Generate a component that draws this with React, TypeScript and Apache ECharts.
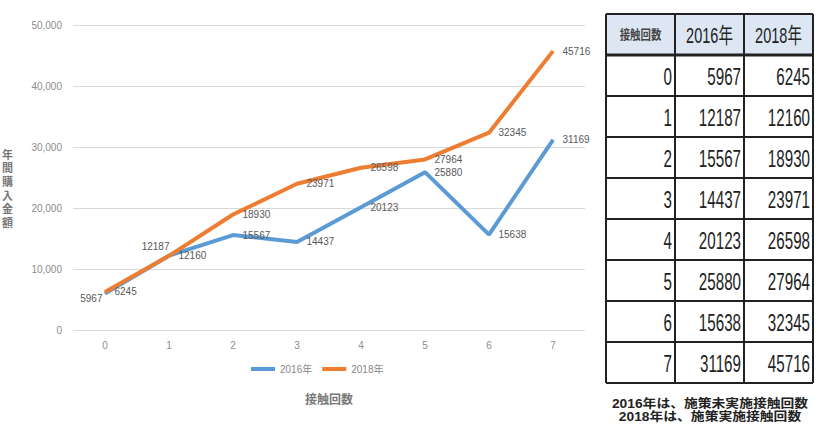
import React, { useEffect, useRef } from "react";
import * as echarts from "echarts";

const categories = ["0", "1", "2", "3", "4", "5", "6", "7"];
const seriesNames = ["2016年", "2018年"];
const values2016 = [5967, 12187, 15567, 14437, 20123, 25880, 15638, 31169];
const values2018 = [6245, 12160, 18930, 23971, 26598, 27964, 32345, 45716];
const yAxisName = ["年", "間", "購", "入", "金", "額"];
const xAxisName = "接触回数";
const tableHeader = ["接触回数", "2016年", "2018年"];
const notes = ["2016年は、施策未実施接触回数", "2018年は、施策実施接触回数"];

const FONT = "'Liberation Sans', 'Noto Sans CJK JP', sans-serif";

function buildTable(): any[] {
  const left = 606;
  const top = 14;
  const colW = 69;
  const rowH = 41;
  const nRows = categories.length + 1;
  const width = colW * 3;
  const height = rowH * nRows;
  const els: any[] = [];
  els.push({ type: "rect", shape: { x: left, y: top + rowH, width, height: height - rowH }, style: { fill: "#ffffff" } });
  els.push({ type: "rect", shape: { x: left, y: top, width, height: rowH }, style: { fill: "#dde7f3" } });
  els.push({
    type: "text", x: left + colW / 2, y: top + rowH / 2, scaleX: 0.8,
    style: { text: tableHeader[0], font: `bold 13px ${FONT}`, fill: "#444", align: "center", verticalAlign: "middle" },
  });
  for (let c = 1; c < 3; c++) {
    els.push({
      type: "text", x: left + colW * c + colW / 2, y: top + rowH / 2 + 1, scaleX: 0.66,
      style: { text: tableHeader[c], font: `22px ${FONT}`, fill: "#222", align: "center", verticalAlign: "middle" },
    });
  }
  categories.forEach((cat, i) => {
    const cy = top + rowH * (i + 1) + rowH / 2;
    const vals = [cat, String(values2016[i]), String(values2018[i])];
    vals.forEach((t, c) => {
      els.push({
        type: "text", x: left + colW * (c + 1) - 3, y: cy + 1, scaleX: 0.66,
        style: { text: t, font: `23px ${FONT}`, fill: "#222", align: "right", verticalAlign: "middle" },
      });
    });
  });
  for (let r = 0; r <= nRows; r++) {
    const y = top + rowH * r;
    els.push({
      type: "line", shape: { x1: left, y1: y, x2: left + width, y2: y },
      style: { stroke: "#222", lineWidth: r === 1 ? 3 : 2 },
    });
  }
  for (let c = 0; c <= 3; c++) {
    const x = left + colW * c;
    els.push({
      type: "line", shape: { x1: x, y1: top, x2: x, y2: top + height },
      style: { stroke: "#222", lineWidth: 2 },
    });
  }
  notes.forEach((n, i) => {
    els.push({
      type: "text", x: 710, y: 404 + i * 13, scaleX: 1.15,
      style: { text: n, font: `bold 12px ${FONT}`, fill: "#222", align: "center", verticalAlign: "middle" },
    });
  });
  return els;
}

export default function App() {
  const ref = useRef<HTMLDivElement>(null);
  useEffect(() => {
    document.body.style.margin = "0";
    const chart = echarts.init(ref.current!, null, { renderer: "svg" });
    const labelBase = { show: true, position: "right", distance: 9, fontSize: 10, color: "#595959", fontFamily: FONT };
    const data2016 = values2016.map((v, i) => {
      if (i === 0) return { value: v, label: { position: "left", distance: 2, offset: [0, 5] } };
      if (i === 1) return { value: v, label: { position: "left", distance: 0, offset: [1, -9] } };
      return v;
    });
    const common = { type: "line", symbol: "circle", symbolSize: 1, showSymbol: true, showAllSymbol: true };
    chart.setOption({
      animation: false,
      textStyle: { fontFamily: FONT },
      grid: { left: 73, right: 233, top: 25, bottom: 118 },
      legend: {
        left: 246, top: 359, itemWidth: 24, itemHeight: 4, itemGap: 10, icon: "rect",
        textStyle: { fontSize: 10, color: "#888" },
        data: seriesNames,
      },
      xAxis: {
        type: "category", data: categories, boundaryGap: true,
        axisLine: { show: false }, axisTick: { show: false },
        axisLabel: { color: "#8c8c8c", fontSize: 10, margin: 10 },
        name: xAxisName, nameLocation: "middle", nameGap: 64,
        nameTextStyle: { fontSize: 12, color: "#777", fontWeight: "bold" },
      },
      yAxis: {
        type: "value", min: 0, max: 50000, interval: 10000,
        axisLine: { show: false }, axisTick: { show: false },
        axisLabel: { color: "#8c8c8c", fontSize: 10, margin: 11, formatter: (v: number) => v.toLocaleString("en-US") },
        splitLine: { lineStyle: { color: "#d9d9d9", width: 1 } },
      },
      graphic: [
        {
          type: "text", x: 7.5, y: 148,
          style: { text: yAxisName.join("\n"), font: `bold 11px ${FONT}`, fill: "#777", align: "center", lineHeight: 13.6 },
        },
        ...buildTable(),
      ],
      series: [
        {
          ...common,
          name: seriesNames[0], data: data2016,
          lineStyle: { color: "#5b9bd5", width: 4 }, itemStyle: { color: "#5b9bd5" },
          label: labelBase,
        },
        {
          ...common,
          name: seriesNames[1], data: values2018,
          lineStyle: { color: "#ed7d31", width: 4 }, itemStyle: { color: "#ed7d31" },
          label: labelBase,
        },
      ],
    });
    return () => chart.dispose();
  }, []);
  return <div ref={ref} style={{ width: 818, height: 448 }} />;
}
